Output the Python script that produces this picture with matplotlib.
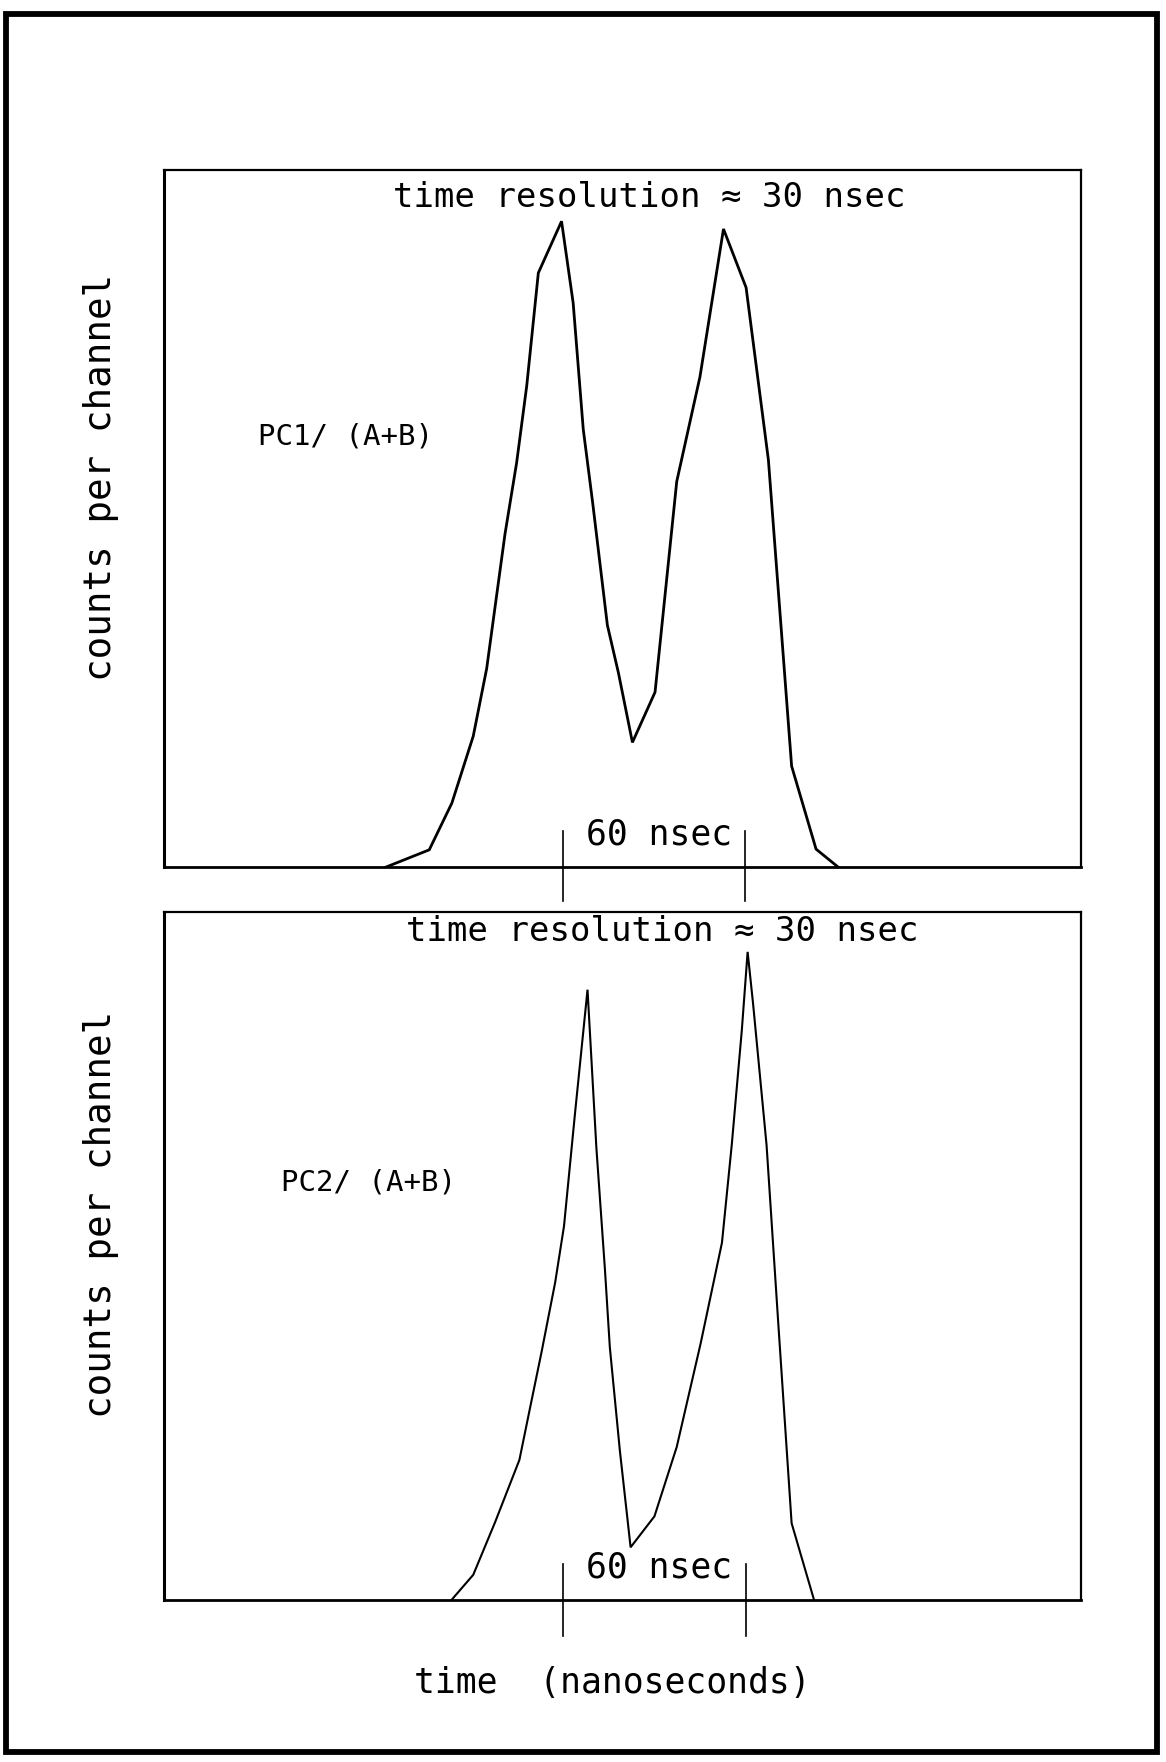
import matplotlib
matplotlib.use("Agg")
import matplotlib.pyplot as plt
from matplotlib.patches import Rectangle
import matplotlib.transforms as mtransforms

# ---- data (time in ns, counts in arbitrary units) ----
time_pc1 = [72.5, 86.8, 94.2, 101.2, 105.6, 108.3, 111.6, 115.4, 118.7, 122.5,
            130.1, 133.9, 137.2, 140.3, 145.1, 148.7, 153.3, 160.7, 167.8,
            175.4, 183.1, 190.5, 197.8, 205.4, 213.4, 220.7]
counts_pc1 = [0, 25, 92, 188, 285, 372, 478, 580, 690, 852,
              926, 809, 628, 522, 347, 279, 179, 251, 553,
              703, 915, 831, 584, 145, 26, 0]

time_pc2 = [94.2, 101.2, 108.3, 116.3, 119.8, 123.6, 128.0, 130.9, 134.5, 138.6,
            141.5, 144.3, 145.9, 149.2, 152.7, 160.5, 167.8, 175.6, 182.6, 185.8,
            189.1, 191.0, 192.8, 197.2, 201.0, 205.4, 212.7]
counts_pc2 = [0, 36, 112, 203, 279, 361, 461, 543, 707, 887,
              657, 480, 367, 216, 76, 121, 222, 372, 519, 661,
              828, 942, 866, 661, 404, 111, 0]

marker_times_pc1 = [130.5, 190.3]
marker_times_pc2 = [130.6, 190.6]
panel_labels = ["PC1/ (A+B)", "PC2/ (A+B)"]
title_text = "time resolution \u2248 30 nsec"
sep_text = "60 nsec"
ylabel_text = "counts per channel"
xlabel_text = "time  (nanoseconds)"

FONT = "DejaVu Sans Mono"

fig = plt.figure(figsize=(11.66, 17.62), dpi=100)
fig.patch.set_facecolor("white")

# outer heavy frame
fig.patches.append(Rectangle((0.0048, 0.0057), 0.9875, 0.9866, transform=fig.transFigure,
                             fill=False, lw=4.2, ec="black", zorder=0))

ax1 = fig.add_axes([0.1407, 0.5078, 0.7861, 0.3959])
ax2 = fig.add_axes([0.1407, 0.0922, 0.7861, 0.3902])

panels = [
    (ax1, time_pc1, counts_pc1, marker_times_pc1, panel_labels[0], (30.8, 0.618), 0.96, 0.529, 2.0, (0.052, -0.048)),
    (ax2, time_pc2, counts_pc2, marker_times_pc2, panel_labels[1], (38.3, 0.606), 0.972, 0.544, 1.5, (0.051, -0.053)),
]

for ax, t, c, mt, lab, labpos, ty, tx, lw, (ytop, ybot) in panels:
    ax.set_xlim(0, 300)
    ax.set_ylim(0, 1000)
    ax.set_xticks([])
    ax.set_yticks([])
    for s in ax.spines.values():
        s.set_linewidth(1.6)
        s.set_color("black")
    ax.spines["left"].set_linewidth(2.2)
    ax.spines["bottom"].set_linewidth(2.0)
    ax.plot(t, c, color="black", lw=lw, solid_joinstyle="miter")
    trans = mtransforms.blended_transform_factory(ax.transData, ax.transAxes)
    for m in mt:
        ax.plot([m, m], [ybot, ytop], color="black", lw=1.2, transform=trans, clip_on=False)
    ax.text(sum(mt) / 2 + 1.5, 0.047, sep_text, transform=trans, ha="center", va="center",
            fontsize=25, family=FONT)
    ax.text(tx, ty, title_text, transform=ax.transAxes, ha="center", va="center",
            fontsize=24.5, family=FONT)
    ax.text(labpos[0], labpos[1], lab, transform=trans, ha="left", va="center",
            fontsize=21, family=FONT)

fig.text(0.0866, 0.729, ylabel_text, rotation=90, ha="center", va="center",
         fontsize=27, family=FONT)
fig.text(0.0866, 0.311, ylabel_text, rotation=90, ha="center", va="center",
         fontsize=27, family=FONT)
fig.text(0.525, 0.045, xlabel_text, ha="center", va="center", fontsize=25, family=FONT)

fig.savefig("out.png", dpi=100, facecolor="white")
